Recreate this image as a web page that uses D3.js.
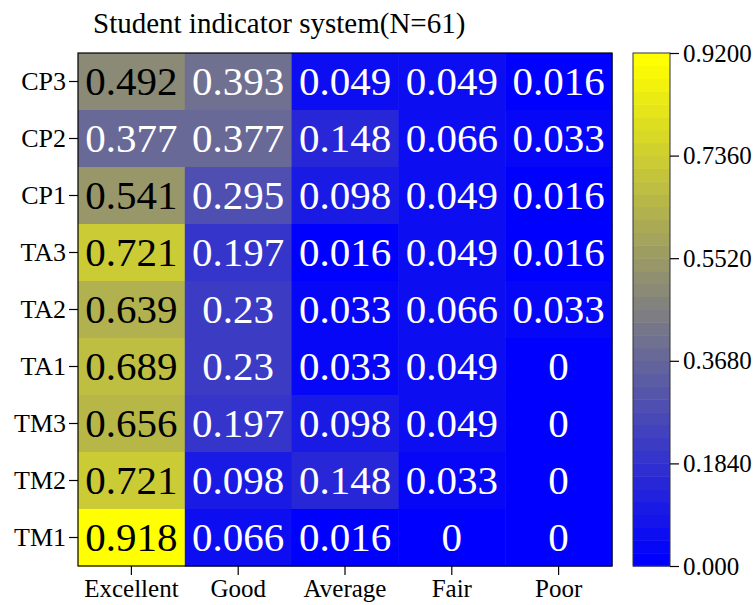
<!DOCTYPE html>
<html>
<head>
<meta charset="utf-8">
<script src="https://cdn.jsdelivr.net/npm/d3@7"></script>
<style>
  html, body { margin: 0; padding: 0; background: #fff; }
  svg { display: block; }
  text { font-family: "Liberation Serif", "Times New Roman", serif; }
</style>
</head>
<body>
<svg id="chart" width="756" height="605"></svg>
<script>
// Rating categories (columns) and indicators (rows, top to bottom)
const categories = ["Excellent", "Good", "Average", "Fair", "Poor"];
const indicators = ["CP3", "CP2", "CP1", "TA3", "TA2", "TA1", "TM3", "TM2", "TM1"];

// Share of students per rating, one array per indicator
const CP3 = [0.492, 0.393, 0.049, 0.049, 0.016];
const CP2 = [0.377, 0.377, 0.148, 0.066, 0.033];
const CP1 = [0.541, 0.295, 0.098, 0.049, 0.016];
const TA3 = [0.721, 0.197, 0.016, 0.049, 0.016];
const TA2 = [0.639, 0.23, 0.033, 0.066, 0.033];
const TA1 = [0.689, 0.23, 0.033, 0.049, 0];
const TM3 = [0.656, 0.197, 0.098, 0.049, 0];
const TM2 = [0.721, 0.098, 0.148, 0.033, 0];
const TM1 = [0.918, 0.066, 0.016, 0, 0];

// Colour bar tick values and their labels
const colorTicks = [0, 0.184, 0.368, 0.552, 0.736, 0.92];
const colorTickLabels = ["0.000", "0.1840", "0.3680", "0.5520", "0.7360", "0.9200"];

const title = "Student indicator system(N=61)";

const rows = { CP3, CP2, CP1, TA3, TA2, TA1, TM3, TM2, TM1 };
const cells = [];
indicators.forEach(ind => {
  rows[ind].forEach((v, j) => cells.push({ ind, cat: categories[j], v }));
});

const svg = d3.select("#chart");

const plot = { left: 78, right: 612, top: 53, bottom: 566 };
const bar = { left: 633, right: 670 };

const x = d3.scaleBand().domain(categories).range([plot.left, plot.right]).padding(0);
const y = d3.scaleBand().domain(indicators).range([plot.top, plot.bottom]).padding(0);

// Stepped blue - grey - yellow colour map
const vmin = 0, vmax = 0.92, nLevels = 40;
const smooth = d3.scaleLinear()
  .domain([vmin, (vmin + vmax) / 2, vmax])
  .range(["#0000ff", "#808080", "#ffff00"])
  .interpolate(d3.interpolateRgb)
  .clamp(true);
const levelColors = d3.range(nLevels).map(i => smooth(vmin + (vmax - vmin) * i / (nLevels - 1)));
const color = d3.scaleQuantize().domain([vmin, vmax]).range(levelColors);

// Heatmap cells
svg.append("g").selectAll("rect")
  .data(cells)
  .join("rect")
  .attr("x", d => x(d.cat))
  .attr("y", d => y(d.ind))
  .attr("width", x.bandwidth() + 0.5)
  .attr("height", y.bandwidth() + 0.5)
  .attr("fill", d => color(d.v));

// Cell value labels
const valueSize = 41;
svg.append("g").selectAll("text")
  .data(cells)
  .join("text")
  .attr("x", d => x(d.cat) + x.bandwidth() / 2)
  .attr("y", d => y(d.ind) + y.bandwidth() / 2 + valueSize * 0.34)
  .attr("text-anchor", "middle")
  .attr("font-size", valueSize)
  .attr("fill", d => d.v > 0.46 ? "#000" : "#fff")
  .text(d => String(d.v));

// Plot frame
svg.append("rect")
  .attr("x", plot.left).attr("y", plot.top)
  .attr("width", plot.right - plot.left).attr("height", plot.bottom - plot.top)
  .attr("fill", "none").attr("stroke", "#000").attr("stroke-width", 1.2);

// Axes
const xAxis = svg.append("g")
  .attr("transform", `translate(0,${plot.bottom})`)
  .call(d3.axisBottom(x).tickSize(9).tickPadding(4));
const yAxis = svg.append("g")
  .attr("transform", `translate(${plot.left},0)`)
  .call(d3.axisLeft(y).tickSize(9).tickPadding(3));
[xAxis, yAxis].forEach(a => {
  a.select(".domain").remove();
  a.selectAll(".tick line").attr("stroke", "#000").attr("stroke-width", 1.2);
  a.selectAll(".tick text")
    .attr("font-family", "Liberation Serif, Times New Roman, serif")
    .attr("font-size", 26).attr("fill", "#000");
});
xAxis.selectAll(".tick text").attr("font-size", 25);

// Colour bar
const cy = d3.scaleLinear().domain([vmin, vmax]).range([plot.bottom, plot.top]);
const step = (vmax - vmin) / nLevels;
svg.append("g").selectAll("rect")
  .data(levelColors)
  .join("rect")
  .attr("x", bar.left)
  .attr("y", (c, i) => cy(vmin + step * (i + 1)))
  .attr("width", bar.right - bar.left)
  .attr("height", (c, i) => cy(vmin + step * i) - cy(vmin + step * (i + 1)) + 0.5)
  .attr("fill", c => c);
svg.append("rect")
  .attr("x", bar.left).attr("y", plot.top)
  .attr("width", bar.right - bar.left).attr("height", plot.bottom - plot.top)
  .attr("fill", "none").attr("stroke", "#333").attr("stroke-width", 1);

const cAxis = svg.append("g")
  .attr("transform", `translate(${bar.right},0)`)
  .call(d3.axisRight(cy).tickValues(colorTicks)
    .tickFormat((d, i) => colorTickLabels[i]).tickSize(9).tickPadding(4));
cAxis.select(".domain").remove();
cAxis.selectAll(".tick line").attr("stroke", "#000").attr("stroke-width", 1.2);
cAxis.selectAll(".tick text")
  .attr("font-family", "Liberation Serif, Times New Roman, serif")
  .attr("font-size", 25).attr("fill", "#000");

// Title
svg.append("text")
  .attr("x", 93).attr("y", 33)
  .attr("font-size", 29)
  .attr("fill", "#000")
  .text(title);
</script>
</body>
</html>
